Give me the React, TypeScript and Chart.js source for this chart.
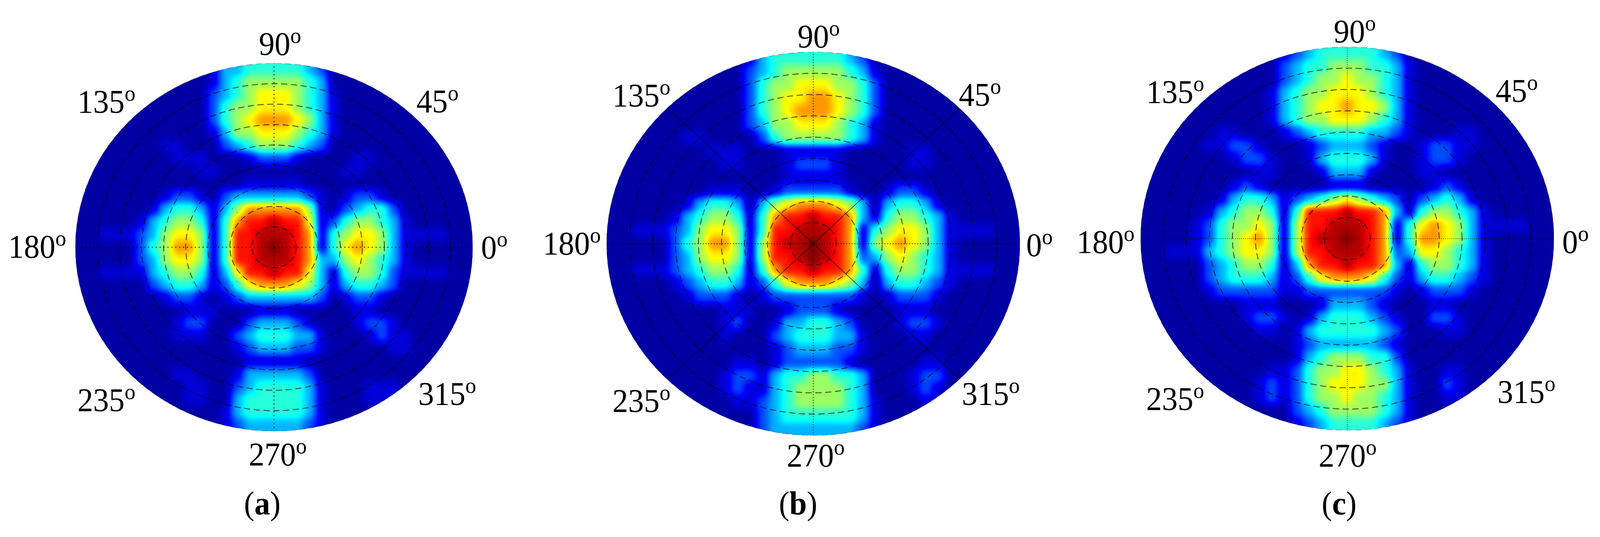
import { useEffect, useRef } from "react";
import { Chart, registerables } from "chart.js";

Chart.register(...registerables);

// Field values, one digit per cell (index into levelValues).
const levelValues = [0.035, 0.085, 0.2, 0.3, 0.41, 0.53, 0.63, 0.73, 0.86, 0.95, 1];

const fieldA = [
  "000000000001334444432000000000000",
  "000000000001345555543000000000000",
  "000000000002345666543100000000000",
  "000000000002455666543100000000000",
  "000000000002456777653100000000000",
  "000000000001355666543100000000000",
  "000000011000234555432000000000000",
  "000000001110001222100001100000000",
  "000000000011000000000011000000000",
  "000000000000001111100000000000000",
  "000000012210233333321012210000000",
  "000000134431357777751023442000000",
  "000001345541478898861245543100000",
  "001112356651488999871456653111100",
  "0000024577514889a9871467653100000",
  "000002356651488999873356543100000",
  "001111345541368898863145542111100",
  "000000234431246777653134432000000",
  "000000012210123333332012210000000",
  "000000000111000111000001100000000",
  "000000001220002333210001221000000",
  "000000001110023444331000121100000",
  "000000000000012333221000001100000",
  "000000000000001111100000000000000",
  "000000001100013333320000000000000",
  "000000000110023444431000111000000",
  "000000000110034444431000111000000",
  "000000000000134444431000000000000",
  "000000000000123333321000000000000",
];

const fieldB = [
  "000000000001344444432000000000000",
  "000000000002345555543100000000000",
  "000000000002455666554200000000000",
  "000000000002456677654200000000000",
  "000000000002456777654200000000000",
  "000000000002355666543100000000000",
  "000000110000245555543100000000000",
  "000000001110001111100000110000000",
  "000000000110001222100000110000000",
  "000000000000001111100000000000000",
  "000000001110012222210012210000000",
  "000000134430356777653034431000000",
  "000001345541478898873145543100000",
  "001112356651488999871456653111100",
  "0000024577515899a9871567653100000",
  "0000023566515889a9872356543100000",
  "001112345541478898874145543111100",
  "000001234431246777653034432100000",
  "000000122210122222221012221000000",
  "000000000111001222100001110000000",
  "000000000120013344320001221000000",
  "000000000100023444331000110000000",
  "000000000000012333221000000000000",
  "000000000011012222210000011000000",
  "000000000122134455443000122000000",
  "000000000121134555543000121000000",
  "000000000011234555543100011000000",
  "000000000000234444443100000000000",
  "000000000000233333332100000000000",
];

const fieldC = [
  "000000000001234444432000000000000",
  "000000000002344555443100000000000",
  "000000000002345565543100000000000",
  "000000000013455666543100000000000",
  "000000000013456676653100000000000",
  "000000000013455666543100000000000",
  "000000110001234444332100011000000",
  "000001122100012333210012211000000",
  "000000012210013444310012210000000",
  "000000000110001333100011000000000",
  "000000012100000111000001210000000",
  "000000134431234565432023431000000",
  "000001345541488898873145543100000",
  "000012455651588999871467653111100",
  "0000124567515899a9871477653100000",
  "001113456651588999872366543100000",
  "000002345541378898873145543100000",
  "000002344431246777642134432100000",
  "000001222221122222221012221000000",
  "000000001110001333210001100000000",
  "000000001221013444321002210000000",
  "000000000110134444432000110000000",
  "000000000000123333321000000000000",
  "000000000000134555442000000000000",
  "000000000011245566543100110000000",
  "000000000121245666553100210000000",
  "000000000121245565543100110000000",
  "000000000000234555543100000000000",
  "000000000000123444432100000000000",
];

const angleTicks = ["90", "45", "135", "180", "0", "235", "315", "270"];
const spokeAngles = [0, 45, 90, 135, 180, 225, 270, 315];
const ringRadii = [1, 2, 3, 4, 5, 6, 7, 8];
const captions = ["a", "b", "c"];

// Page layout for each panel, in reference pixels: ellipse box, tick text left/baseline.
const panels = [
  {
    field: fieldA, caption: captions[0], left: 0, width: 1440,
    box: [202, 162, 1263, 1104],
    ticks: [[692, 141], [1113, 288], [207, 289], [22, 660], [1286, 662], [207, 1053], [1118, 1037], [665, 1192]],
    captionX: 652,
    axial: { width: 2.5, dash: [3, 7], color: "rgba(0,0,0,0.8)" },
    diagonal: { width: 1.5, dash: [2, 14], color: "rgba(0,0,0,0.7)" },
  },
  {
    field: fieldB, caption: captions[1], left: 1440, width: 1420,
    box: [1622, 133, 2726, 1115],
    ticks: [[2132, 122], [2563, 271], [1637, 273], [1451, 652], [2743, 656], [1637, 1055], [2571, 1037], [2103, 1195]],
    captionX: 2082,
    axial: { width: 2.5, dash: [3, 4], color: "rgba(0,0,0,0.6)" },
    diagonal: { width: 1.5, dash: [], color: "rgba(0,0,0,0.85)" },
  },
  {
    field: fieldC, caption: captions[2], left: 2860, width: 1417,
    box: [3049, 120, 4154, 1102],
    ticks: [[3565, 109], [3998, 261], [3064, 264], [2878, 648], [4176, 648], [3064, 1050], [4003, 1032], [3525, 1195]],
    captionX: 3533,
    axial: { width: 1.5, dash: [2, 3], color: "rgba(0,0,0,0.8)" },
    diagonal: { width: 1.2, dash: [2, 12], color: "rgba(0,0,0,0.6)" },
  },
];

const PAGE_W = 4277;
const PAGE_H = 1375;
const BLUR = 10;

function jet(v: number): [number, number, number] {
  const ramp = (t: number) => Math.max(0, Math.min(1, t));
  return [
    ramp(Math.min(4 * v - 1.5, -4 * v + 4.5)) * 255,
    ramp(Math.min(4 * v - 0.5, -4 * v + 3.5)) * 255,
    ramp(Math.min(4 * v + 0.5, -4 * v + 2.5)) * 255,
  ];
}

// Cells go on the canvas as grey levels, then get smoothed and recoloured here,
// so the contour colours stay on the jet ramp instead of mixing in rgb.
const fieldPlugin = {
  id: "fieldColours",
  afterDatasetDraw(chart: any, args: any) {
    if (chart.data.datasets[args.index].label !== "field") return;
    const { left, top, width, height } = chart.chartArea;
    const off = document.createElement("canvas");
    off.width = width;
    off.height = height;
    const oc = off.getContext("2d")!;
    oc.filter = `blur(${BLUR}px)`;
    oc.drawImage(chart.canvas, left, top, width, height, 0, 0, width, height);
    const img = oc.getImageData(0, 0, width, height);
    const d = img.data;
    const rx = width / 2;
    const ry = height / 2;
    for (let y = 0; y < height; y++) {
      for (let x = 0; x < width; x++) {
        const i = (y * width + x) * 4;
        const [r, g, b] = jet(d[i] / 255);
        const e = Math.hypot((x + 0.5 - rx) / rx, (y + 0.5 - ry) / ry);
        d[i] = r;
        d[i + 1] = g;
        d[i + 2] = b;
        d[i + 3] = Math.max(0, Math.min(1, (1 - e) * ry + 0.5)) * 255;
      }
    }
    chart.ctx.clearRect(left, top, width, height);
    chart.ctx.putImageData(img, left, top);
  },
};

const textPlugin = {
  id: "panelText",
  afterDraw(chart: any, _args: any, opts: any) {
    const ctx = chart.ctx;
    const { panel, sx, canvasLeft } = opts;
    const put = (s: string, x: number, y: number, font: string) => {
      ctx.save();
      ctx.font = font;
      ctx.translate(x * sx - canvasLeft, y);
      ctx.scale(sx, 1);
      ctx.fillText(s, 0, 0);
      ctx.restore();
    };
    ctx.save();
    ctx.fillStyle = "#000";
    ctx.textBaseline = "alphabetic";
    panel.ticks.forEach(([x, y]: number[], i: number) => {
      const label = angleTicks[i];
      put(label, x, y, "84px 'Liberation Serif'");
      ctx.font = "84px 'Liberation Serif'";
      put("o", x + ctx.measureText(label).width, y - 31, "58px 'Liberation Serif'");
    });
    let x = panel.captionX;
    [["(", false], [panel.caption, true], [")", false]].forEach(([s, bold]: any) => {
      const font = `${bold ? "bold " : ""}84px 'Liberation Serif'`;
      put(s, x, 1317, font);
      ctx.font = font;
      x += ctx.measureText(s).width;
    });
    ctx.restore();
  },
};

function fieldPoints(rows: string[]) {
  const out: { x: number; y: number }[] = [];
  const colours: string[] = [];
  const cols = rows[0].length;
  rows.forEach((row, j) => {
    for (let i = 0; i < cols; i++) {
      const level = parseInt(row[i] ?? "0", 16) || 0;
      const g = Math.round(levelValues[level] * 255);
      out.push({ x: -1 + ((i + 0.5) * 2) / cols, y: 1 - ((j + 0.5) * 2) / rows.length });
      colours.push(`rgb(${g},${g},${g})`);
    }
  });
  return { points: out, colours };
}

const ringAngles = Array.from({ length: 181 }, (_, i) => (i * 2 * Math.PI) / 180);

function lineSet(data: { x: number; y: number }[], width: number, dash: number[], color: string) {
  return {
    data,
    showLine: true,
    pointRadius: 0,
    borderWidth: width,
    borderDash: dash,
    borderColor: color,
    fill: false,
  };
}

function PolarPanel({ panel, sx }: { panel: (typeof panels)[number]; sx: number }) {
  const canvasRef = useRef<HTMLCanvasElement | null>(null);
  const canvasLeft = Math.round(panel.left * sx);
  const canvasWidth = Math.round((panel.left + panel.width) * sx) - canvasLeft;

  useEffect(() => {
    if (!canvasRef.current) return;
    const x0 = Math.round(panel.box[0] * sx);
    const x1 = Math.round(panel.box[2] * sx);
    const y0 = panel.box[1];
    const y1 = panel.box[3];
    const cols = panel.field[0].length;
    const rows = panel.field.length;
    const cell = Math.max((x1 - x0) / cols, (y1 - y0) / rows);
    const { points, colours } = fieldPoints(panel.field);

    const rings = ringRadii.map((r) =>
      lineSet(ringAngles.map((a) => ({ x: (r / 9) * Math.cos(a), y: (r / 9) * Math.sin(a) })), 2, [16, 9], "rgba(0,0,0,0.75)")
    );
    const outer = lineSet(ringAngles.map((a) => ({ x: Math.cos(a), y: Math.sin(a) })), 1.5, [16, 9], "rgba(0,0,0,0.35)");
    const spokes = spokeAngles.map((deg) => {
      const a = (deg * Math.PI) / 180;
      const s = deg % 90 === 0 ? panel.axial : panel.diagonal;
      return lineSet([{ x: 0, y: 0 }, { x: Math.cos(a), y: Math.sin(a) }], s.width, s.dash, s.color);
    });

    const chart = new Chart(canvasRef.current, {
      type: "scatter",
      data: {
        datasets: [
          ...spokes,
          ...rings,
          outer,
          {
            label: "field",
            data: points,
            pointStyle: "rect",
            pointRadius: cell / Math.SQRT2 + 0.5,
            pointBorderWidth: 0,
            pointBackgroundColor: colours,
          },
        ] as any,
      },
      options: {
        animation: false,
        responsive: false,
        devicePixelRatio: 1,
        layout: {
          padding: {
            left: x0 - canvasLeft,
            right: canvasLeft + canvasWidth - x1,
            top: y0,
            bottom: PAGE_H - y1,
          },
        },
        scales: {
          x: { type: "linear", min: -1, max: 1, display: false },
          y: { type: "linear", min: -1, max: 1, display: false },
        },
        plugins: {
          legend: { display: false },
          tooltip: { enabled: false },
          panelText: { panel, sx, canvasLeft },
        } as any,
      },
      plugins: [fieldPlugin, textPlugin],
    });
    return () => chart.destroy();
  }, [panel, sx, canvasLeft, canvasWidth]);

  return (
    <canvas
      ref={canvasRef}
      width={canvasWidth}
      height={PAGE_H}
      style={{ position: "absolute", left: canvasLeft, top: 0, display: "block" }}
    />
  );
}

export default function App() {
  // The browser may clamp the window narrower than the reference, so x positions follow it.
  const pageWidth = Math.min(window.innerWidth, PAGE_W);
  const sx = pageWidth / PAGE_W;
  return (
    <div style={{ position: "absolute", left: 0, top: 0, width: pageWidth, height: PAGE_H, overflow: "hidden", background: "#fff" }}>
      {panels.map((p) => (
        <PolarPanel key={p.caption} panel={p} sx={sx} />
      ))}
    </div>
  );
}
